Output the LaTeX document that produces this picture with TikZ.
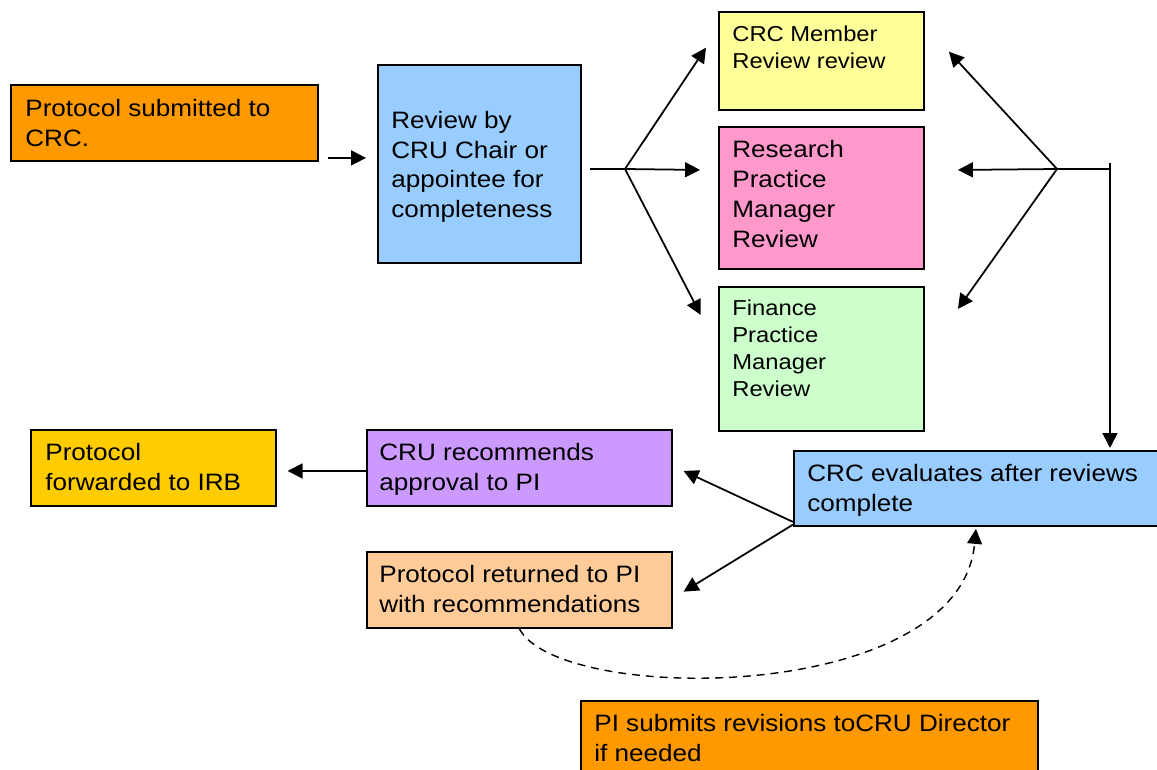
\documentclass[tikz,border=0pt]{standalone}
\usepackage{fontspec}
\setmainfont{Liberation Sans}[FakeStretch=1.1]
\usetikzlibrary{arrows.meta,calc}
\definecolor{corange}{HTML}{FF9900}
\definecolor{cblue}{HTML}{99CCFF}
\definecolor{cyellow}{HTML}{FFFF99}
\definecolor{cpink}{HTML}{FF99CC}
\definecolor{cgreen}{HTML}{CCFFCC}
\definecolor{cpurple}{HTML}{CC99FF}
\definecolor{cgold}{HTML}{FFCC00}
\definecolor{cpeach}{HTML}{FFCC99}
\begin{document}
\begin{tikzpicture}[x=0.02cm,y=-0.02cm,
  box/.style={draw=black, line width=1.1pt, inner sep=0pt, anchor=north west},
  txt/.style={inner sep=0pt, anchor=north west, align=left, font=\fontsize{13.5}{17}\selectfont},
  txts/.style={txt, font=\fontsize{12.3}{15.5}\selectfont},
  arr/.style={line width=1pt, -{Triangle[length=8.5pt,width=8.5pt]}},
  ln/.style={line width=1pt},
  dsh/.style={line width=0.8pt, dash pattern=on 4.5pt off 3.4pt, -{Triangle[length=8.5pt,width=8.5pt]}}]
\useasboundingbox (0,0) rectangle (1157,770);

% boxes
\node[box, fill=corange, minimum width=6.14cm, minimum height=1.52cm] (A) at (10,84) {};
\node[box, fill=cblue, minimum width=4.06cm, minimum height=3.96cm] (B) at (377,64) {};
\node[box, fill=cyellow, minimum width=4.10cm, minimum height=1.96cm] (C) at (718,11) {};
\node[box, fill=cpink, minimum width=4.10cm, minimum height=2.84cm] (D) at (718,126) {};
\node[box, fill=cgreen, minimum width=4.10cm, minimum height=2.88cm] (E) at (718,286) {};
\node[box, fill=cpurple, minimum width=6.10cm, minimum height=1.52cm] (F) at (366,429) {};
\node[box, fill=cgold, minimum width=4.90cm, minimum height=1.52cm] (G) at (30,429) {};
\node[box, fill=cblue, minimum width=7.54cm, minimum height=1.50cm] (H) at (793,450) {};
\node[box, fill=cpeach, minimum width=6.10cm, minimum height=1.52cm] (I) at (366,551) {};
\node[box, fill=corange, minimum width=9.14cm, minimum height=1.80cm] (J) at (580,700) {};

% texts
\node[txt] (tA) at (25,98.6) {Protocol submitted to\\CRC.};
\node[txt] (tB) at (391,110.6) {Review by\\CRU Chair or\\appointee for\\completeness};
\node[txts] (tC) at (732,25) {CRC Member\\Review review};
\node[txt] (tD) at (732,140) {Research\\Practice\\Manager\\Review};
\node[txts] (tE) at (732,299) {Finance\\Practice\\Manager\\Review};
\node[txt] (tF) at (379,443.3) {CRU recommends\\approval to PI};
\node[txt] (tG) at (45,443.3) {Protocol\\forwarded to IRB};
\node[txt] (tH) at (807,464.3) {CRC evaluates after reviews\\complete};
\node[txt] (tI) at (379,564.6) {Protocol returned to PI\\with recommendations};
\node[txt] (tJ) at (594,714.3) {PI submits revisions toCRU Director\\if needed};

% junction points
\coordinate (f1) at (625,169);
\coordinate (f2) at (1057,169);
\coordinate (v) at (1110,169);

% connectors
\draw[arr] ($(A.south east)+(9,-4)$) -- ($(B.west |- A.south east)+(-11,-4)$);
\draw[ln] ($(B.north east)+(8,105)$) -- (f1);
\draw[arr] (f1) -- ($(C.west)+(-12,-13.3)$);
\draw[arr] (f1) -- ($(D.west)+(-18,-28)$);
\draw[arr] (f1) -- ($(E.west)+(-17.3,-44)$);
\draw[arr] (f2) -- ($(C.east)+(24,-9.3)$);
\draw[arr] (f2) -- ($(D.east)+(33,-28)$);
\draw[arr] (f2) -- ($(E.east)+(33,-50)$);
\draw[ln] (f2) -- (v);
\draw[arr] ($(v)+(0,-6.3)$) -- ($(v |- H.north)+(0,-2)$);
\draw[arr] ($(H.south west)+(0,-5)$) -- ($(F.east)+(10.7,3)$);
\draw[arr] ($(H.south west)+(0,-2.3)$) -- ($(I.east)+(10.7,1.7)$);
\draw[arr] ($(F.west)+(0,3)$) -- ($(G.east)+(10.7,3)$);
\draw[dsh] (I.south) .. controls (560,705) and (960,705) .. ($(H.south)+(-6.5,2)$);
\end{tikzpicture}
\end{document}
